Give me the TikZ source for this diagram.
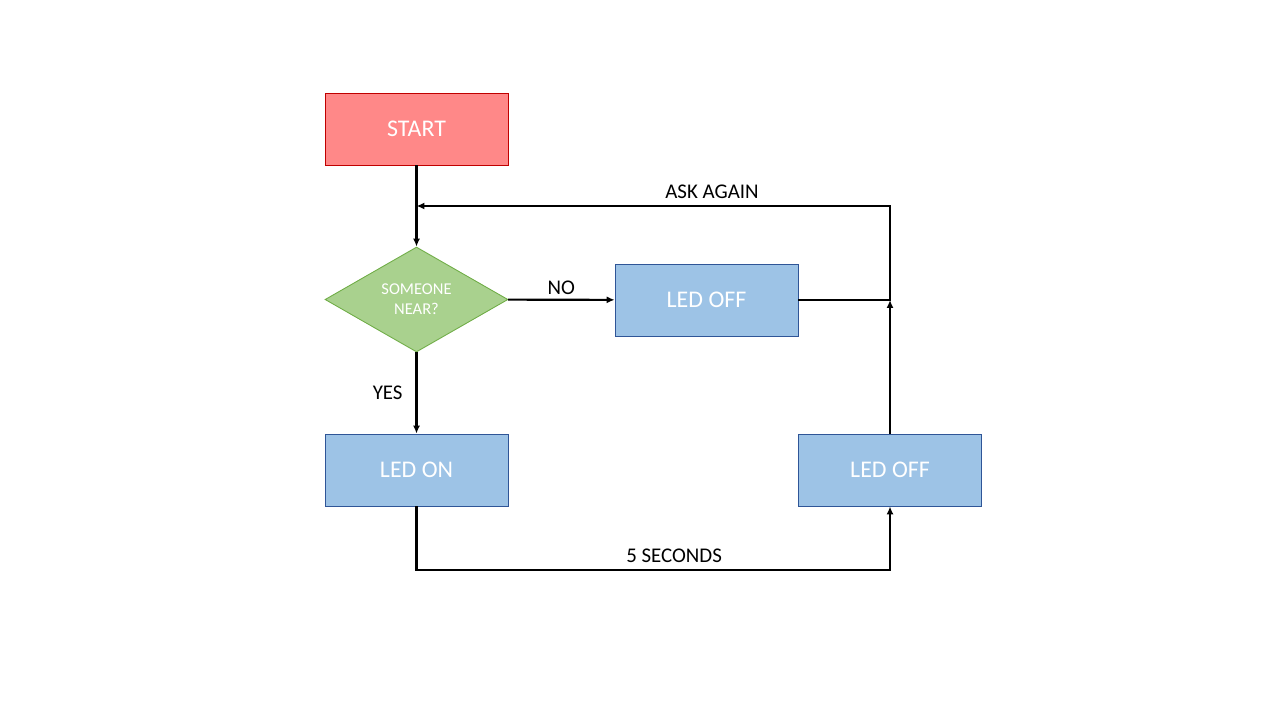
\documentclass[tikz,border=0pt]{standalone}
\usepackage{fontspec}
\setmainfont{Carlito}
\usetikzlibrary{arrows.meta, positioning, shapes.geometric}

\definecolor{startfill}{HTML}{FF8888}
\definecolor{startline}{HTML}{C00000}
\definecolor{ledfill}{HTML}{9DC3E6}
\definecolor{ledline}{HTML}{2F5597}
\definecolor{askfill}{HTML}{A9D18E}
\definecolor{askline}{HTML}{70AD47}

\begin{document}
\begin{tikzpicture}[
    x=0.02cm, y=-0.02cm,
    startbox/.style={rectangle, draw=startline, fill=startfill, line width=0.5pt, minimum width=3.66cm, minimum height=1.44cm, text=white, font=\fontsize{13.6}{16}\selectfont},
    ledbox/.style={rectangle, draw=ledline, fill=ledfill, line width=0.5pt, minimum width=3.66cm, minimum height=1.44cm, text=white, font=\fontsize{13.6}{16}\selectfont},
    ask/.style={diamond, draw=askline, fill=askfill, line width=0.5pt, minimum width=3.66cm, minimum height=2.1cm, inner sep=0pt, align=center, text=white, font=\fontsize{9.4}{11.5}\selectfont},
    lbl/.style={font=\fontsize{11.9}{14}\selectfont},
    arr/.style={-{Latex[length=4.5pt, width=4pt]}, draw=black, line width=1.2pt}
  ]
    \useasboundingbox (0,0) rectangle (1280,720);
    \node[startbox] (start) at (416.5, 129) {START};
    \node[ask] (near) at (416.5, 299.5) {SOMEONE\\NEAR?};
    \node[ledbox] (off1) at (706.5, 300) {LED OFF};
    \node[ledbox] (on) at (416.5, 470) {LED ON};
    \node[ledbox] (off2) at (890, 470) {LED OFF};
    \coordinate (join) at (890, 300);
    \coordinate (top) at (890, 206);
    \coordinate (back) at (416.5, 206);
    \coordinate (low) at (416.5, 570);
    \coordinate (lowr) at (890, 570);
    \draw[arr] (start) -- (near);
    \draw[arr] (near) -- node[lbl, above=-1pt] {NO} (off1);
    \draw[arr] (near) -- node[lbl, left=4pt] {YES} (on);
    \draw[arr] (on.south) -- (low) -- node[lbl, above=0pt, pos=0.544] {5 SECONDS} (lowr) -- (off2.south);
    \draw[arr] (off2.north) -- (join);
    \draw[arr] (off1.east) -- (join) -- (top) -- node[lbl, above=0pt, pos=0.376] {ASK AGAIN} (back);
\end{tikzpicture}
\end{document}
